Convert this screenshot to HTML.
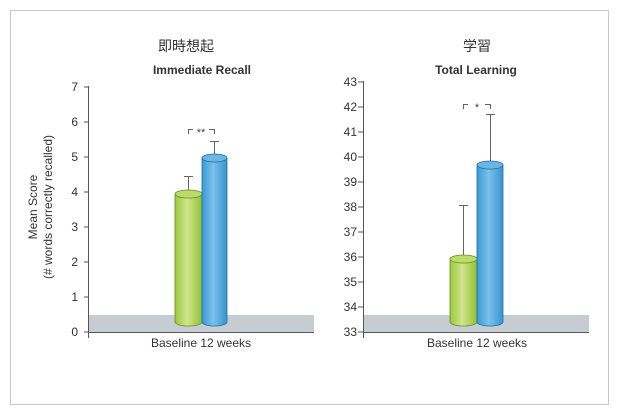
<!DOCTYPE html>
<html><head><meta charset="utf-8"><style>
html,body{margin:0;padding:0;background:#fff;}
svg{display:block;font-family:"Liberation Sans","Noto Sans CJK JP",sans-serif;}
</style></head><body>
<svg width="619" height="413" viewBox="0 0 619 413" xmlns="http://www.w3.org/2000/svg">
<defs>
<linearGradient id="g" x1="0" x2="1"><stop offset="0" stop-color="#9cc83a"/><stop offset="0.45" stop-color="#cfe58e"/><stop offset="1" stop-color="#94c032"/></linearGradient>
<linearGradient id="b" x1="0" x2="1"><stop offset="0" stop-color="#3a9ad8"/><stop offset="0.45" stop-color="#7cc0ea"/><stop offset="1" stop-color="#3594d2"/></linearGradient>
</defs>
<rect x="10.5" y="10.5" width="598" height="394" fill="#fff" stroke="#c8c8c8"/>

<!-- LEFT -->
<text x="186" y="51" font-size="14" text-anchor="middle" fill="#333">即時想起</text>
<text x="202" y="74" font-size="12" font-weight="bold" text-anchor="middle" fill="#333">Immediate Recall</text>
<rect x="89" y="315" width="225" height="17" fill="#c6ccd2"/>
<g stroke="#555" stroke-width="1">
<line x1="88.5" y1="86" x2="88.5" y2="338"/>
<line x1="88" y1="332.5" x2="314" y2="332.5"/>
<line x1="84" y1="87" x2="88" y2="87"/><line x1="84" y1="122" x2="88" y2="122"/><line x1="84" y1="157" x2="88" y2="157"/><line x1="84" y1="192" x2="88" y2="192"/><line x1="84" y1="227" x2="88" y2="227"/><line x1="84" y1="262" x2="88" y2="262"/><line x1="84" y1="297" x2="88" y2="297"/><line x1="84" y1="332" x2="88" y2="332"/>
</g>
<g font-size="12" fill="#333" text-anchor="end">
<text x="78" y="91">7</text><text x="78" y="126">6</text><text x="78" y="161">5</text><text x="78" y="196">4</text><text x="78" y="231">3</text><text x="78" y="266">2</text><text x="78" y="301">1</text><text x="78" y="336">0</text>
</g>
<g font-size="12" fill="#333" text-anchor="middle">
<text transform="translate(37,207) rotate(-90)">Mean Score</text>
<text transform="translate(52,207) rotate(-90)">(# words correctly recalled)</text>
</g>
<text x="201" y="347" font-size="12" fill="#333" text-anchor="middle">Baseline  12 weeks</text>
<g stroke="#666" stroke-width="1">
<line x1="188.5" y1="176" x2="188.5" y2="192"/><line x1="184" y1="176.5" x2="193" y2="176.5"/>
<line x1="214.5" y1="141" x2="214.5" y2="157"/><line x1="210" y1="141.5" x2="219" y2="141.5"/>
<polyline points="188.5,134 188.5,129.5 193,129.5" fill="none"/><polyline points="209,129.5 214.5,129.5 214.5,134" fill="none"/>
</g>
<text x="201" y="136" font-size="11" fill="#444" text-anchor="middle">**</text>
<g stroke="#6a8a20" stroke-width="0.8">
<path d="M175,194 L175,322 A13.5,4 0 0 0 202,322 L202,194 Z" fill="url(#g)"/>
<ellipse cx="188.5" cy="194" rx="13.5" ry="4" fill="#bcdc6a"/>
</g>
<g stroke="#1d6ea8" stroke-width="0.8">
<path d="M202,158 L202,322 A12.5,4 0 0 0 227,322 L227,158 Z" fill="url(#b)"/>
<ellipse cx="214.5" cy="158" rx="12.5" ry="4" fill="#6cb6e6"/>
</g>

<!-- RIGHT -->
<text x="477" y="51" font-size="14" text-anchor="middle" fill="#333">学習</text>
<text x="476" y="74" font-size="12" font-weight="bold" text-anchor="middle" fill="#333">Total Learning</text>
<rect x="364" y="315" width="225" height="17" fill="#c6ccd2"/>
<g stroke="#555" stroke-width="1">
<line x1="363.5" y1="81" x2="363.5" y2="338"/>
<line x1="363" y1="332.5" x2="589" y2="332.5"/>
<line x1="358" y1="82" x2="363" y2="82"/><line x1="358" y1="107" x2="363" y2="107"/><line x1="358" y1="132" x2="363" y2="132"/><line x1="358" y1="157" x2="363" y2="157"/><line x1="358" y1="182" x2="363" y2="182"/><line x1="358" y1="207" x2="363" y2="207"/><line x1="358" y1="232" x2="363" y2="232"/><line x1="358" y1="257" x2="363" y2="257"/><line x1="358" y1="282" x2="363" y2="282"/><line x1="358" y1="307" x2="363" y2="307"/><line x1="358" y1="332" x2="363" y2="332"/>
</g>
<g font-size="12" fill="#333" text-anchor="end">
<text x="357" y="86">43</text><text x="357" y="111">42</text><text x="357" y="136">41</text><text x="357" y="161">40</text><text x="357" y="186">39</text><text x="357" y="211">38</text><text x="357" y="236">37</text><text x="357" y="261">36</text><text x="357" y="286">35</text><text x="357" y="311">34</text><text x="357" y="336">33</text>
</g>
<text x="477" y="347" font-size="12" fill="#333" text-anchor="middle">Baseline  12 weeks</text>
<g stroke="#666" stroke-width="1">
<line x1="463.5" y1="205" x2="463.5" y2="258"/><line x1="459" y1="205.5" x2="468" y2="205.5"/>
<line x1="490.5" y1="114" x2="490.5" y2="165"/><line x1="486" y1="114.5" x2="495" y2="114.5"/>
<polyline points="463.5,109 463.5,104.5 468,104.5" fill="none"/><polyline points="485,104.5 490.5,104.5 490.5,109" fill="none"/>
</g>
<text x="477" y="111" font-size="11" fill="#444" text-anchor="middle">*</text>
<g stroke="#6a8a20" stroke-width="0.8">
<path d="M450,259 L450,322 A13.5,4 0 0 0 477,322 L477,259 Z" fill="url(#g)"/>
<ellipse cx="463.5" cy="259" rx="13.5" ry="4" fill="#bcdc6a"/>
</g>
<g stroke="#1d6ea8" stroke-width="0.8">
<path d="M477,165 L477,322 A13,4 0 0 0 503,322 L503,165 Z" fill="url(#b)"/>
<ellipse cx="490" cy="165" rx="13" ry="4" fill="#6cb6e6"/>
</g>
</svg>
</body></html>
